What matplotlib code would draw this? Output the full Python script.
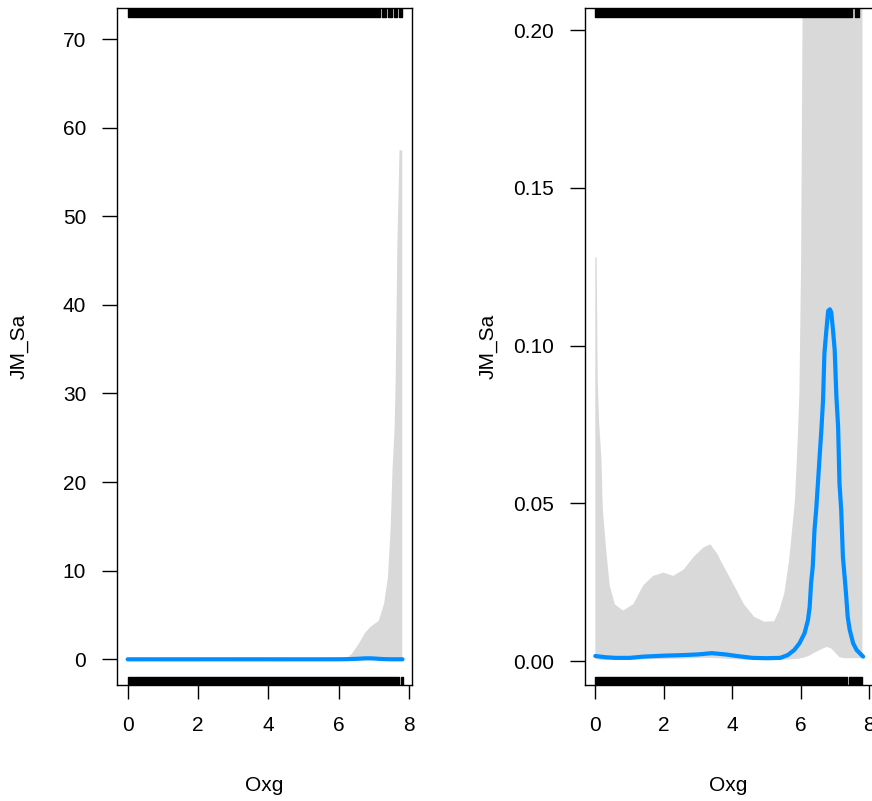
import matplotlib
matplotlib.use("Agg")
from matplotlib import pyplot as plt

# fitted effect of Oxg on JM_Sa
fit_x = [0.00, 0.30, 0.60, 1.00, 1.40, 2.00, 2.60, 3.00, 3.40, 3.80, 4.20, 4.60,
         5.00, 5.40, 5.62, 5.81, 5.96, 6.11, 6.21, 6.26, 6.30, 6.35, 6.40, 6.45,
         6.50, 6.55, 6.60, 6.65, 6.69, 6.74, 6.80, 6.85, 6.89, 6.94, 6.99, 7.04,
         7.09, 7.13, 7.18, 7.23, 7.28, 7.32, 7.37, 7.43, 7.53, 7.63, 7.82]
fit_y = [0.0016, 0.0012, 0.0010, 0.0010, 0.0014, 0.0017, 0.0019, 0.0021, 0.0025, 0.0021,
         0.0015, 0.0010, 0.0009, 0.0010, 0.0019, 0.0035, 0.0056, 0.0088, 0.0130, 0.0172,
         0.0246, 0.0300, 0.0415, 0.0480, 0.0563, 0.0648, 0.0730, 0.0827, 0.0975, 0.1040,
         0.1110, 0.1115, 0.1105, 0.1050, 0.0986, 0.0838, 0.0743, 0.0563, 0.0480, 0.0330,
         0.0267, 0.0215, 0.0140, 0.0098, 0.0056, 0.0035, 0.0014]

# confidence band around the fit
band_x = [0.00, 0.04, 0.07, 0.11, 0.18, 0.22, 0.32, 0.42, 0.57, 0.81, 1.11, 1.40,
          1.69, 1.99, 2.28, 2.58, 2.87, 3.16, 3.36, 3.56, 3.75, 4.05, 4.34, 4.64,
          4.93, 5.22, 5.37, 5.52, 5.66, 5.76, 5.83, 5.91, 5.96, 6.01, 6.06, 6.15,
          6.27, 6.37, 6.56, 6.75, 6.89, 7.13, 7.28, 7.39, 7.47, 7.52, 7.58, 7.61,
          7.66, 7.72, 7.80]
band_upper = [0.128, 0.128, 0.090, 0.076, 0.064, 0.048, 0.035, 0.024, 0.018, 0.016,
              0.018, 0.024, 0.027, 0.028, 0.027, 0.029, 0.033, 0.036, 0.037, 0.034,
              0.030, 0.024, 0.018, 0.014, 0.0125, 0.0126, 0.016, 0.0215, 0.032, 0.043,
              0.051, 0.070, 0.085, 0.127, 0.22, 0.26, 0.35, 0.7, 1.8, 3.1,
              3.7, 4.4, 6.3, 9.3, 15.0, 21.4, 26.1, 31.5, 47.0, 57.5, 57.5]
band_lower = [0.0006, 0.0006, 0.0005, 0.0004, 0.0003, 0.0003, 0.0003, 0.0003, 0.0003, 0.0003,
              0.0004, 0.0005, 0.0006, 0.0006, 0.0007, 0.0008, 0.0009, 0.0010, 0.0010, 0.0009,
              0.0008, 0.0006, 0.0004, 0.0003, 0.0003, 0.0003, 0.0003, 0.0004, 0.0005, 0.0006,
              0.0006, 0.0007, 0.0008, 0.0009, 0.0010, 0.0013, 0.0018, 0.0025, 0.0035, 0.0045,
              0.0040, 0.0012, 0.0009, 0.0009, 0.0009, 0.0009, 0.0009, 0.0009, 0.0009, 0.0009, 0.0009]

# rug of observed Oxg values (solid where the ticks run together)
rug_top_left = [(0.00, 7.18), (7.23, 7.34), (7.40, 7.51), (7.59, 7.67), (7.71, 7.80)]
rug_bottom_left = [(0.00, 7.71), (7.78, 7.82)]
rug_top_right = [(0.00, 7.51), (7.57, 7.70)]
rug_bottom_right = [(0.00, 7.36), (7.40, 7.79)]

x_ticks = [0, 2, 4, 6, 8]
left_yticks = [0, 10, 20, 30, 40, 50, 60, 70]
right_yticks = [0.00, 0.05, 0.10, 0.15, 0.20]

plt.rcParams['font.family'] = ['Liberation Sans', 'DejaVu Sans']
plt.rcParams['font.size'] = 15


def draw_panel(ax, ylim, yticks, ylabels, rug_top, rug_bottom):
    ax.fill_between(band_x, band_lower, band_upper, color='#d9d9d9', linewidth=0, zorder=1)
    ax.plot(fit_x, fit_y, color='#008dff', linewidth=3, solid_capstyle='round', zorder=2)
    trans = ax.get_xaxis_transform()
    ax.broken_barh([(a, b - a) for a, b in rug_top], (0.987, 0.013), transform=trans,
                   color='black', zorder=3)
    ax.broken_barh([(a, b - a) for a, b in rug_bottom], (0.0, 0.012), transform=trans,
                   color='black', zorder=3)

    ax.set_xlim(-0.31, 8.1)
    ax.set_ylim(*ylim)
    ax.set_xticks(x_ticks)
    ax.set_yticks(yticks)
    ax.set_yticklabels(ylabels)
    ax.tick_params(axis='y', length=11, width=1, pad=11, color='black')
    ax.tick_params(axis='x', length=10, width=1, pad=12, color='black')
    for s in ax.spines.values():
        s.set_linewidth(1)
        s.set_color('black')

    ax.set_xlabel('Oxg', va='center')
    ax.set_ylabel('JM_Sa', va='center')
    ax.xaxis.set_label_coords(0.5, -0.149)


fig = plt.figure(figsize=(8.72, 8.01), dpi=100)
ax1 = fig.add_axes([0.1339, 0.1448, 0.339, 0.8452])
ax2 = fig.add_axes([0.6705, 0.1448, 0.3303, 0.8452])

draw_panel(ax1, (-2.9, 73.5), left_yticks, [str(v) for v in left_yticks],
           rug_top_left, rug_bottom_left)
ax1.yaxis.set_label_coords(-0.331, 0.5)

draw_panel(ax2, (-0.0076, 0.207), right_yticks, [f'{v:.2f}' for v in right_yticks],
           rug_top_right, rug_bottom_right)
ax2.yaxis.set_label_coords(-0.336, 0.5)

fig.savefig('out.png', dpi=100)
